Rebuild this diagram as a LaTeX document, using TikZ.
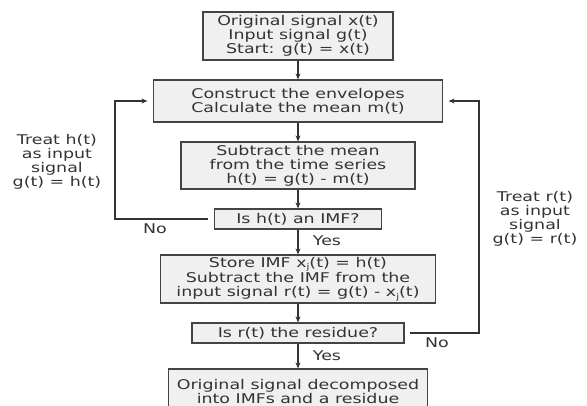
\documentclass[tikz,border=0pt]{standalone}
\usepackage{fontspec}
\usetikzlibrary{arrows.meta}
\newfontfamily\df{DejaVu Sans}[FakeStretch=1.3]
\definecolor{boxc}{HTML}{444444}
\definecolor{fillc}{HTML}{F0F0F0}
\definecolor{txtc}{HTML}{333333}
\definecolor{linec}{HTML}{333333}
\newcommand{\subj}{\raisebox{-0.35ex}{\fontsize{8}{8}\selectfont j}}
\tikzset{
  box/.style={draw=boxc, fill=fillc, line width=1.2pt, align=center, inner sep=0pt,
    text=txtc, font=\df\fontsize{13.4}{14}\selectfont},
  lbl/.style={align=center, inner sep=0pt, text=txtc, font=\df\fontsize{13.4}{14}\selectfont},
  link/.style={draw=linec, line width=1.1pt, -{Stealth[length=6pt,width=5pt]}},
  loopline/.style={draw=linec, line width=1.1pt, -{Stealth[length=6pt,width=5pt]},
    shorten <=5.5pt, shorten >=5.5pt}
}
\begin{document}
\begin{tikzpicture}[x=1pt,y=-1pt]
\useasboundingbox (0,0) rectangle (587,405);
\clip (0,0) rectangle (587,405);
\node[box, minimum width=190pt, minimum height=48pt] (b1) at (298,36)
  {Original signal x(t)\\Input signal g(t)\\Start: g(t) = x(t)};
\node[box, minimum width=289pt, minimum height=42pt] (b2) at (298,101)
  {Construct the envelopes\\Calculate the mean m(t)};
\node[box, minimum width=234pt, minimum height=47pt] (b3) at (298,165.5)
  {Subtract the mean\\from the time series\\h(t) = g(t) - m(t)};
\node[box, minimum width=167pt, minimum height=20pt] (imf) at (298,219)
  {Is h(t) an IMF?};
\node[box, minimum width=275pt, minimum height=48pt] (st) at (298,279)
  {Store IMF x\subj(t) = h(t)\\Subtract the IMF from the\\input signal r(t) = g(t) - x\subj(t)};
\node[box, minimum width=212pt, minimum height=20pt] (res) at (298,333)
  {Is r(t) the residue?};
\node[box, minimum width=259pt, minimum height=44pt] (last) at (298,391)
  {Original signal decomposed\\into IMFs and a residue};

\coordinate (lc) at (115,0);
\coordinate (rc) at (479,0);

\draw[link] (b1.south) -- (b2.north);
\draw[link] (b2.south) -- (b3.north);
\draw[link] (b3.south) -- (imf.north);
\draw[link] (imf.south) -- (st.north);
\draw[link] (st.south) -- (res.north);
\draw[link] (res.south) -- (last.north);

\draw[loopline] (imf.west) -| (lc |- b2.west) -- (b2.west);
\draw[loopline] (res.east) -| (rc |- b2.east) -- (b2.east);

\node[lbl] (tl) at (57,161.5) {Treat h(t)\\as input\\signal\\g(t) = h(t)};
\node[lbl] (tr) at (535,218.5) {Treat r(t)\\as input\\signal\\g(t) = r(t)};
\node[lbl] (nol) at (155,229) {No};
\node[lbl] (nor) at (437,343) {No};
\node[lbl] (y1) at (327,241) {Yes};
\node[lbl] (y2) at (327,356) {Yes};
\end{tikzpicture}
\end{document}
